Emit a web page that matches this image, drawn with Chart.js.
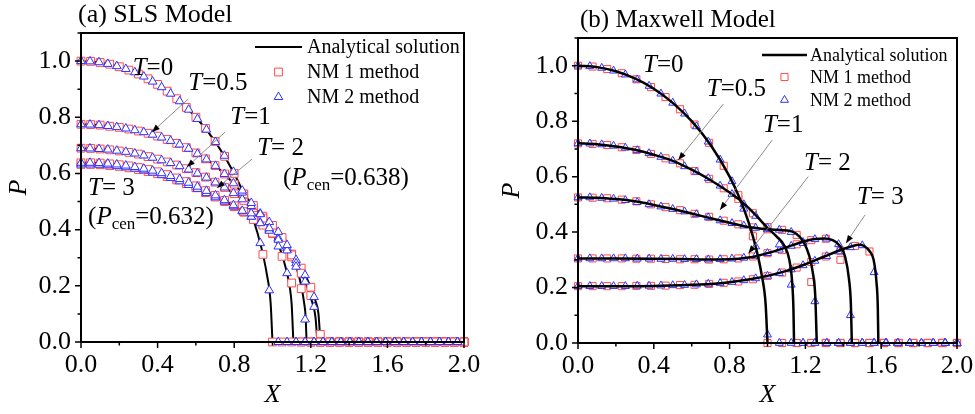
<!DOCTYPE html>
<html>
<head>
<meta charset="utf-8">
<script src="https://cdn.jsdelivr.net/npm/chart.js@4.4.0/dist/chart.umd.min.js"></script>
<style>
  html, body { margin: 0; padding: 0; background: #fff; }
  #wrap { position: relative; width: 975px; height: 414px; }
  canvas { position: absolute; top: 0; }
  #chartSls { left: 0; }
  #chartMxw { left: 487px; }
</style>
</head>
<body>
<div id="wrap">
  <canvas id="chartSls" width="487" height="414"></canvas>
  <canvas id="chartMxw" width="488" height="414"></canvas>
</div>
<script>
// --- DATA ---
const timeLabels = ['0', '0.5', '1', '2', '3'];
const seriesNames = ['Analytical solution', 'NM 1 method', 'NM 2 method'];

// (a) SLS model: analytical curves, one X / P list per time
const slsLineX = [
  [0, 0.1, 0.2, 0.3, 0.4, 0.5, 0.6, 0.7, 0.8, 0.85, 0.9, 0.94, 0.97, 0.99, 1.0],
  [0, 0.1, 0.2, 0.3, 0.4, 0.5, 0.6, 0.7, 0.8, 0.9, 0.95, 1.0, 1.04, 1.07, 1.09, 1.1, 1.109],
  [0, 0.1, 0.2, 0.3, 0.4, 0.5, 0.6, 0.7, 0.8, 0.9, 1.0, 1.05, 1.1, 1.13, 1.15, 1.165, 1.173, 1.178],
  [0, 0.1, 0.2, 0.3, 0.4, 0.5, 0.6, 0.7, 0.8, 0.9, 1.0, 1.05, 1.1, 1.15, 1.19, 1.21, 1.225, 1.234],
  [0, 0.1, 0.2, 0.3, 0.4, 0.5, 0.6, 0.7, 0.8, 0.9, 1.0, 1.05, 1.1, 1.15, 1.2, 1.225, 1.24, 1.25]
];
const slsLineP = [
  [1.0, 0.995, 0.980, 0.954, 0.917, 0.866, 0.800, 0.714, 0.600, 0.527, 0.436, 0.341, 0.243, 0.141, 0],
  [0.775, 0.772, 0.764, 0.751, 0.733, 0.707, 0.673, 0.628, 0.562, 0.486, 0.441, 0.388, 0.330, 0.262, 0.195, 0.135, 0],
  [0.690, 0.687, 0.680, 0.669, 0.651, 0.630, 0.603, 0.569, 0.528, 0.478, 0.415, 0.372, 0.310, 0.255, 0.200, 0.140, 0.090, 0],
  [0.638, 0.637, 0.631, 0.621, 0.606, 0.584, 0.556, 0.522, 0.485, 0.441, 0.386, 0.348, 0.303, 0.245, 0.180, 0.135, 0.085, 0],
  [0.632, 0.631, 0.625, 0.614, 0.599, 0.577, 0.549, 0.516, 0.482, 0.441, 0.390, 0.354, 0.313, 0.263, 0.195, 0.145, 0.100, 0]
];

// (a) NM 1 points (squares)
const slsNm1X = [
  0, 0.05, 0.10, 0.15, 0.20, 0.25, 0.30, 0.35, 0.40, 0.45,
  0.50, 0.55, 0.60, 0.65, 0.70, 0.75, 0.80, 0.85, 0.90, 0.95,
  1.00, 1.05, 1.10, 1.15, 1.20, 1.25, 1.30, 1.35, 1.40, 1.45,
  1.50, 1.55, 1.60, 1.65, 1.70, 1.75, 1.80, 1.85, 1.90, 1.95,
  2.00
];
const slsNm1P = [
  [1.000, 0.999, 0.995, 0.989, 0.980, 0.968, 0.954, 0.937, 0.917, 0.893,
   0.866, 0.835, 0.800, 0.760, 0.714, 0.661, 0.600, 0.527, 0.436, 0.312,
   0, 0, 0, 0, 0, 0, 0, 0, 0, 0,
   0, 0, 0, 0, 0, 0, 0, 0, 0, 0,
   0],
  [0.775, 0.774, 0.772, 0.768, 0.764, 0.758, 0.751, 0.743, 0.733, 0.721,
   0.707, 0.692, 0.673, 0.652, 0.628, 0.598, 0.562, 0.526, 0.486, 0.441,
   0.388, 0.305, 0.210, 0, 0, 0, 0, 0, 0, 0,
   0, 0, 0, 0, 0, 0, 0, 0, 0, 0,
   0],
  [0.690, 0.689, 0.687, 0.684, 0.680, 0.675, 0.669, 0.660, 0.651, 0.641,
   0.630, 0.617, 0.603, 0.587, 0.569, 0.550, 0.528, 0.504, 0.478, 0.448,
   0.415, 0.372, 0.310, 0.190, 0, 0, 0, 0, 0, 0,
   0, 0, 0, 0, 0, 0, 0, 0, 0, 0,
   0],
  [0.638, 0.638, 0.637, 0.634, 0.631, 0.627, 0.621, 0.614, 0.606, 0.596,
   0.584, 0.571, 0.556, 0.539, 0.522, 0.504, 0.485, 0.464, 0.441, 0.416,
   0.386, 0.348, 0.303, 0.245, 0.165, 0, 0, 0, 0, 0,
   0, 0, 0, 0, 0, 0, 0, 0, 0, 0,
   0],
  [0.632, 0.632, 0.631, 0.628, 0.625, 0.620, 0.614, 0.607, 0.599, 0.589,
   0.577, 0.564, 0.549, 0.532, 0.516, 0.500, 0.482, 0.462, 0.441, 0.419,
   0.390, 0.354, 0.313, 0.263, 0.195, 0.027, 0, 0, 0, 0,
   0, 0, 0, 0, 0, 0, 0, 0, 0, 0,
   0]
];

// (a) NM 2 points (triangles)
const slsNm2X = [
  0, 0.047, 0.094, 0.140, 0.187, 0.234, 0.281, 0.328, 0.374, 0.421,
  0.468, 0.515, 0.562, 0.608, 0.655, 0.702, 0.749, 0.796, 0.842, 0.889,
  0.936, 0.983, 1.030, 1.076, 1.123, 1.170, 1.217, 1.264, 1.310, 1.357,
  1.404, 1.451, 1.498, 1.544, 1.591, 1.638, 1.685, 1.732, 1.778, 1.825,
  1.872, 1.919, 1.966
];
const slsNm2P = [
  [1.000, 0.999, 0.996, 0.990, 0.982, 0.972, 0.960, 0.945, 0.927, 0.907,
   0.884, 0.857, 0.827, 0.794, 0.756, 0.712, 0.663, 0.606, 0.539, 0.458,
   0.352, 0.184, 0, 0, 0, 0, 0, 0, 0, 0,
   0, 0, 0, 0, 0, 0, 0, 0, 0, 0,
   0, 0, 0],
  [0.775, 0.774, 0.772, 0.769, 0.765, 0.760, 0.754, 0.747, 0.738, 0.728,
   0.716, 0.703, 0.688, 0.670, 0.650, 0.627, 0.598, 0.565, 0.532, 0.495,
   0.455, 0.405, 0.340, 0.245, 0, 0, 0, 0, 0, 0,
   0, 0, 0, 0, 0, 0, 0, 0, 0, 0,
   0, 0, 0],
  [0.690, 0.689, 0.687, 0.685, 0.681, 0.677, 0.671, 0.664, 0.656, 0.647,
   0.637, 0.626, 0.614, 0.600, 0.585, 0.568, 0.550, 0.530, 0.508, 0.484,
   0.457, 0.427, 0.392, 0.345, 0.268, 0.080, 0, 0, 0, 0,
   0, 0, 0, 0, 0, 0, 0, 0, 0, 0,
   0, 0, 0],
  [0.638, 0.638, 0.637, 0.635, 0.632, 0.628, 0.623, 0.617, 0.610, 0.601,
   0.591, 0.580, 0.567, 0.553, 0.538, 0.522, 0.505, 0.487, 0.467, 0.446,
   0.423, 0.396, 0.364, 0.326, 0.280, 0.215, 0.125, 0, 0, 0,
   0, 0, 0, 0, 0, 0, 0, 0, 0, 0,
   0, 0, 0],
  [0.632, 0.632, 0.631, 0.629, 0.626, 0.622, 0.617, 0.611, 0.603, 0.594,
   0.584, 0.572, 0.559, 0.545, 0.530, 0.515, 0.500, 0.483, 0.465, 0.446,
   0.425, 0.400, 0.370, 0.334, 0.292, 0.238, 0.160, 0, 0, 0,
   0, 0, 0, 0, 0, 0, 0, 0, 0, 0,
   0, 0, 0]
];

// (b) Maxwell model: analytical curves
const mxwLineX = [
  [0, 0.1, 0.2, 0.3, 0.4, 0.5, 0.6, 0.7, 0.8, 0.85, 0.9, 0.94, 0.97, 0.99, 1.0],
  [0, 0.1, 0.2, 0.3, 0.4, 0.5, 0.6, 0.7, 0.8, 0.85, 0.9, 0.95, 1.0, 1.05, 1.09, 1.115, 1.13, 1.137, 1.14],
  [0, 0.1, 0.2, 0.3, 0.4, 0.5, 0.6, 0.7, 0.8, 0.9, 1.0, 1.05, 1.1, 1.15, 1.19, 1.22, 1.24, 1.252, 1.26],
  [0, 0.2, 0.4, 0.6, 0.7, 0.8, 0.85, 0.9, 0.95, 1.0, 1.05, 1.1, 1.15, 1.2, 1.25, 1.3, 1.34, 1.38, 1.41, 1.43, 1.44, 1.445],
  [0, 0.2, 0.4, 0.6, 0.7, 0.8, 0.9, 1.0, 1.1, 1.2, 1.3, 1.4, 1.45, 1.48, 1.51, 1.54, 1.56, 1.575, 1.582, 1.585]
];
const mxwLineP = [
  [1.0, 0.995, 0.980, 0.954, 0.917, 0.866, 0.800, 0.714, 0.600, 0.527, 0.436, 0.341, 0.243, 0.141, 0],
  [0.720, 0.717, 0.709, 0.697, 0.679, 0.657, 0.625, 0.587, 0.543, 0.518, 0.487, 0.452, 0.415, 0.383, 0.350, 0.300, 0.220, 0.120, 0],
  [0.525, 0.524, 0.519, 0.511, 0.498, 0.483, 0.467, 0.450, 0.434, 0.418, 0.410, 0.408, 0.406, 0.395, 0.365, 0.315, 0.250, 0.170, 0],
  [0.305, 0.305, 0.304, 0.302, 0.301, 0.302, 0.304, 0.308, 0.315, 0.324, 0.334, 0.345, 0.357, 0.368, 0.375, 0.377, 0.372, 0.352, 0.310, 0.230, 0.140, 0],
  [0.205, 0.205, 0.206, 0.210, 0.213, 0.219, 0.229, 0.242, 0.260, 0.284, 0.312, 0.339, 0.350, 0.354, 0.350, 0.330, 0.300, 0.220, 0.130, 0]
];

// (b) NM 1 points (squares)
const mxwNm1X = [
  0, 0.077, 0.154, 0.231, 0.308, 0.385, 0.462, 0.538, 0.615,
  0.692, 0.769, 0.846, 0.923, 1.000, 1.077, 1.154, 1.231, 1.308,
  1.385, 1.462, 1.538, 1.615, 1.692, 1.769, 1.846, 1.923, 2.000
];
const mxwNm1P = [
  [1.000, 0.997, 0.988, 0.973, 0.951, 0.923, 0.887, 0.843, 0.788,
   0.722, 0.639, 0.533, 0.385, 0, 0, 0, 0, 0,
   0, 0, 0, 0, 0, 0, 0, 0, 0],
  [0.720, 0.718, 0.714, 0.706, 0.696, 0.682, 0.666, 0.648, 0.620,
   0.592, 0.558, 0.520, 0.468, 0.418, 0.335, 0, 0, 0,
   0, 0, 0, 0, 0, 0, 0, 0, 0],
  [0.525, 0.524, 0.522, 0.517, 0.511, 0.500, 0.490, 0.479, 0.466,
   0.455, 0.441, 0.428, 0.417, 0.410, 0.408, 0.390, 0.220, 0,
   0, 0, 0, 0, 0, 0, 0, 0, 0],
  [0.305, 0.305, 0.305, 0.305, 0.304, 0.304, 0.303, 0.302, 0.302,
   0.301, 0.302, 0.305, 0.312, 0.324, 0.338, 0.356, 0.371, 0.376,
   0.300, 0, 0, 0, 0, 0, 0, 0, 0],
  [0.205, 0.205, 0.205, 0.205, 0.206, 0.206, 0.207, 0.209, 0.210,
   0.213, 0.217, 0.222, 0.230, 0.242, 0.254, 0.272, 0.292, 0.312,
   0.333, 0.350, 0.330, 0, 0, 0, 0, 0, 0]
];

// (b) NM 2 points (triangles)
const mxwNm2X = [
  0, 0.0625, 0.125, 0.1875, 0.25, 0.3125, 0.375, 0.4375, 0.5, 0.5625, 0.625,
  0.6875, 0.75, 0.8125, 0.875, 0.9375, 1.0, 1.0625, 1.125, 1.1875, 1.25, 1.3125,
  1.375, 1.4375, 1.5, 1.5625, 1.625, 1.6875, 1.75, 1.8125, 1.875, 1.9375, 2.0
];
const mxwNm2P = [
  [1.000, 0.998, 0.992, 0.982, 0.968, 0.950, 0.927, 0.899, 0.866, 0.827, 0.781,
   0.726, 0.661, 0.583, 0.484, 0.348, 0.030, 0, 0, 0, 0, 0,
   0, 0, 0, 0, 0, 0, 0, 0, 0, 0, 0],
  [0.720, 0.719, 0.716, 0.711, 0.704, 0.695, 0.684, 0.671, 0.657, 0.637, 0.617,
   0.594, 0.567, 0.537, 0.500, 0.458, 0.415, 0.355, 0.210, 0, 0, 0,
   0, 0, 0, 0, 0, 0, 0, 0, 0, 0, 0],
  [0.525, 0.525, 0.523, 0.520, 0.515, 0.508, 0.500, 0.492, 0.483, 0.474, 0.464,
   0.453, 0.442, 0.432, 0.423, 0.415, 0.410, 0.408, 0.400, 0.360, 0.150, 0,
   0, 0, 0, 0, 0, 0, 0, 0, 0, 0, 0],
  [0.305, 0.305, 0.305, 0.305, 0.305, 0.304, 0.304, 0.303, 0.303, 0.302, 0.302,
   0.301, 0.302, 0.304, 0.307, 0.314, 0.324, 0.336, 0.350, 0.364, 0.374, 0.376,
   0.356, 0.100, 0, 0, 0, 0, 0, 0, 0, 0, 0],
  [0.205, 0.205, 0.205, 0.205, 0.205, 0.206, 0.206, 0.207, 0.208, 0.209, 0.211,
   0.213, 0.216, 0.220, 0.226, 0.233, 0.242, 0.252, 0.265, 0.280, 0.296, 0.313,
   0.330, 0.345, 0.352, 0.255, 0, 0, 0, 0, 0, 0, 0]
];

// --- STYLE ---
const SERIF = '"Liberation Serif", "Times New Roman", serif';
const RED = '#ff4a4a';
const BLUE = '#3030ff';
Chart.defaults.color = '#000';
Chart.defaults.font.family = SERIF;

function pts(xs, ps) {
  return xs.map((x, i) => ({ x: x, y: ps[i] }));
}

function isMultiple(v, step) {
  const r = v / step;
  return Math.abs(r - Math.round(r)) < 1e-6;
}

// rich text: [{t, it, sub}]
function drawRich(ctx, parts, x, y, size) {
  let cx = x;
  ctx.textAlign = 'left';
  ctx.textBaseline = 'middle';
  parts.forEach(p => {
    const fs = p.sub ? Math.round(size * 0.68) : size;
    ctx.font = (p.it ? 'italic ' : '') + fs + 'px ' + SERIF;
    ctx.fillText(p.t, cx, p.sub ? y + size * 0.3 : y);
    cx += ctx.measureText(p.t).width;
  });
}

function drawArrow(ctx, x1, y1, x2, y2) {
  ctx.save();
  ctx.strokeStyle = '#808080';
  ctx.lineWidth = 0.9;
  ctx.beginPath();
  ctx.moveTo(x1, y1);
  ctx.lineTo(x2, y2);
  ctx.stroke();
  const a = Math.atan2(y2 - y1, x2 - x1);
  const len = 8, half = 3;
  ctx.fillStyle = '#000';
  ctx.beginPath();
  ctx.moveTo(x2, y2);
  ctx.lineTo(x2 - len * Math.cos(a) + half * Math.sin(a), y2 - len * Math.sin(a) - half * Math.cos(a));
  ctx.lineTo(x2 - len * Math.cos(a) - half * Math.sin(a), y2 - len * Math.sin(a) + half * Math.cos(a));
  ctx.closePath();
  ctx.fill();
  ctx.restore();
}

// --- PLUGIN: frame, ticks, title, legend, annotations ---
const decorPlugin = {
  id: 'decor',
  afterDatasetsDraw(chart) {
    const cfg = chart.options.plugins.decor;
    const ctx = chart.ctx;
    const area = chart.chartArea;
    const xs = chart.scales.x, ys = chart.scales.y;
    ctx.save();

    // frame
    ctx.strokeStyle = '#000';
    ctx.lineWidth = 2;
    ctx.strokeRect(area.left, area.top, area.right - area.left, area.bottom - area.top);

    // ticks, long for labelled ones
    ctx.lineWidth = 1.5;
    ctx.beginPath();
    xs.ticks.forEach(t => {
      const px = xs.getPixelForValue(t.value);
      const len = t.label !== '' ? 6 : 3.5;
      ctx.moveTo(px, area.bottom);
      ctx.lineTo(px, area.bottom + len);
    });
    ys.ticks.forEach(t => {
      const py = ys.getPixelForValue(t.value);
      const len = t.label !== '' ? 6 : 3.5;
      ctx.moveTo(area.left, py);
      ctx.lineTo(area.left - len, py);
    });
    ctx.stroke();

    // panel title
    ctx.fillStyle = '#000';
    drawRich(ctx, [{ t: cfg.title.text }], cfg.title.x, cfg.title.y, cfg.title.size);

    // annotations in data units
    cfg.notes.forEach(n => {
      if (n.arrow) {
        drawArrow(ctx,
          xs.getPixelForValue(n.arrow[0]), ys.getPixelForValue(n.arrow[1]),
          xs.getPixelForValue(n.arrow[2]), ys.getPixelForValue(n.arrow[3]));
      }
      ctx.fillStyle = '#000';
      drawRich(ctx, n.parts, xs.getPixelForValue(n.x), ys.getPixelForValue(n.y), cfg.noteSize);
    });

    // legend
    const lg = cfg.legend;
    const firstOf = kind => chart.data.datasets.find(d => d.kind === kind);
    ['line', 'nm1', 'nm2'].forEach((kind, i) => {
      const ds = firstOf(kind);
      const y = lg.ys[i];
      if (kind === 'line') {
        ctx.strokeStyle = ds.borderColor;
        ctx.lineWidth = ds.borderWidth;
        ctx.beginPath();
        ctx.moveTo(lg.lineX0, y);
        ctx.lineTo(lg.lineX1, y);
        ctx.stroke();
      } else {
        ctx.strokeStyle = ds.pointBorderColor;
        ctx.fillStyle = ds.pointBackgroundColor;
        ctx.lineWidth = ds.pointBorderWidth;
        Chart.helpers.drawPoint(ctx, { pointStyle: ds.pointStyle, radius: ds.pointRadius, rotation: 0, borderWidth: ds.pointBorderWidth }, (lg.lineX0 + lg.lineX1) / 2, y);
      }
      ctx.fillStyle = '#000';
      drawRich(ctx, [{ t: ds.label }], lg.textX, y + 1, lg.size);
    });
    ctx.restore();
  }
};

// --- CHART BUILDER ---
function buildPanel(canvasId, p) {
  const canvas = document.getElementById(canvasId);
  const W = canvas.width, H = canvas.height;
  const datasets = [];

  for (let i = 0; i < timeLabels.length; i++) {
    datasets.push({
      kind: 'line', label: seriesNames[0], tLabel: timeLabels[i],
      data: pts(p.lineX[i], p.lineP[i]),
      showLine: true, borderColor: '#000', borderWidth: p.lineWidth,
      pointRadius: 0, cubicInterpolationMode: 'monotone',
      clip: false, order: p.lineOrder
    });
    datasets.push({
      kind: 'nm1', label: seriesNames[1], tLabel: timeLabels[i],
      data: pts(p.nm1X, p.nm1P[i]),
      showLine: false, pointStyle: 'rect', pointRadius: p.rectRadius,
      pointBorderColor: RED, pointBackgroundColor: '#fff', pointBorderWidth: 1,
      clip: false, order: p.nm1Order
    });
    datasets.push({
      kind: 'nm2', label: seriesNames[2], tLabel: timeLabels[i],
      data: pts(p.nm2X, p.nm2P[i]),
      showLine: false, pointStyle: 'triangle', pointRadius: p.triRadius,
      pointBorderColor: BLUE, pointBackgroundColor: '#fff', pointBorderWidth: 1,
      clip: false, order: p.nm2Order
    });
  }

  return new Chart(canvas, {
    type: 'scatter',
    data: { datasets: datasets },
    plugins: [decorPlugin],
    options: {
      responsive: false,
      animation: false,
      devicePixelRatio: 1,
      layout: { padding: { left: 0, top: p.area.top, right: W - p.area.right, bottom: 0 } },
      plugins: {
        legend: { display: false },
        tooltip: { enabled: false },
        decor: { title: p.title, notes: p.notes, noteSize: 25, legend: p.legend }
      },
      scales: {
        x: {
          type: 'linear', min: 0, max: 2,
          grid: { display: false, drawTicks: false },
          border: { display: false },
          ticks: {
            stepSize: 0.2, autoSkip: false, maxRotation: 0, padding: 8,
            font: { family: SERIF, size: 26 }, color: '#000',
            callback: v => isMultiple(v, 0.4) ? v.toFixed(1) : ''
          },
          title: {
            display: true, text: 'X', color: '#000',
            font: { family: SERIF, size: 26, style: 'italic' },
            padding: { top: 0, bottom: 3 }
          },
          afterFit: s => { s.height = H - p.area.bottom; s.paddingLeft = 0; s.paddingRight = 0; }
        },
        y: {
          type: 'linear', min: 0, max: 1.1,
          grid: { display: false, drawTicks: false },
          border: { display: false },
          ticks: {
            stepSize: 0.1, autoSkip: false, padding: 10,
            font: { family: SERIF, size: 26 }, color: '#000',
            callback: v => isMultiple(v, 0.2) ? v.toFixed(1) : ''
          },
          title: {
            display: true, text: 'P', color: '#000',
            font: { family: SERIF, size: 26, style: 'italic' },
            padding: { top: p.yTitlePad, bottom: 0 }
          },
          afterFit: s => { s.width = p.area.left; s.paddingTop = 0; s.paddingBottom = 0; }
        }
      }
    }
  });
}

const T = { t: 'T', it: true };
const Pc = [{ t: '(' }, { t: 'P', it: true }, { t: 'cen', sub: true }];

buildPanel('chartSls', {
  lineX: slsLineX, lineP: slsLineP, nm1X: slsNm1X, nm1P: slsNm1P, nm2X: slsNm2X, nm2P: slsNm2P,
  lineWidth: 2, rectRadius: 5.5, triRadius: 5,
  lineOrder: 2, nm1Order: 1, nm2Order: 0,
  area: { left: 81, right: 464, top: 33, bottom: 342 },
  yTitlePad: 4,
  title: { text: '(a) SLS Model', x: 78, y: 15, size: 26 },
  legend: { lineX0: 255, lineX1: 302, textX: 307, ys: [47, 72, 97], size: 20 },
  notes: [
    { x: 0.27, y: 0.975, parts: [T, { t: '=0' }] },
    { x: 0.56, y: 0.92, parts: [T, { t: '=0.5' }], arrow: [0.56, 0.865, 0.37, 0.747] },
    { x: 0.78, y: 0.80, parts: [T, { t: '=1' }], arrow: [0.752, 0.747, 0.553, 0.623] },
    { x: 0.92, y: 0.69, parts: [T, { t: '= 2' }], arrow: [0.893, 0.651, 0.71, 0.548] },
    { x: 1.055, y: 0.584, parts: Pc.concat([{ t: '=0.638)' }]) },
    { x: 0.037, y: 0.548, parts: [T, { t: '= 3' }] },
    { x: 0.037, y: 0.445, parts: Pc.concat([{ t: '=0.632)' }]) }
  ]
});

buildPanel('chartMxw', {
  lineX: mxwLineX, lineP: mxwLineP, nm1X: mxwNm1X, nm1P: mxwNm1P, nm2X: mxwNm2X, nm2P: mxwNm2P,
  lineWidth: 2.5, rectRadius: 5, triRadius: 4.6,
  lineOrder: 0, nm1Order: 2, nm2Order: 1,
  area: { left: 91, right: 470, top: 38, bottom: 343 },
  yTitlePad: 10,
  title: { text: '(b) Maxwell Model', x: 93, y: 20, size: 25 },
  legend: { lineX0: 275, lineX1: 320, textX: 323, ys: [55, 77, 100], size: 18 },
  notes: [
    { x: 0.343, y: 1.0, parts: [T, { t: '=0' }] },
    { x: 0.68, y: 0.916, parts: [T, { t: '=0.5' }], arrow: [0.767, 0.862, 0.529, 0.66] },
    { x: 0.976, y: 0.786, parts: [T, { t: '=1' }], arrow: [1.025, 0.732, 0.749, 0.48] },
    { x: 1.193, y: 0.649, parts: [T, { t: '= 2' }], arrow: [1.215, 0.60, 0.899, 0.323] },
    { x: 1.472, y: 0.526, parts: [T, { t: '= 3' }], arrow: [1.515, 0.462, 1.414, 0.36] }
  ]
});
</script>
</body>
</html>
